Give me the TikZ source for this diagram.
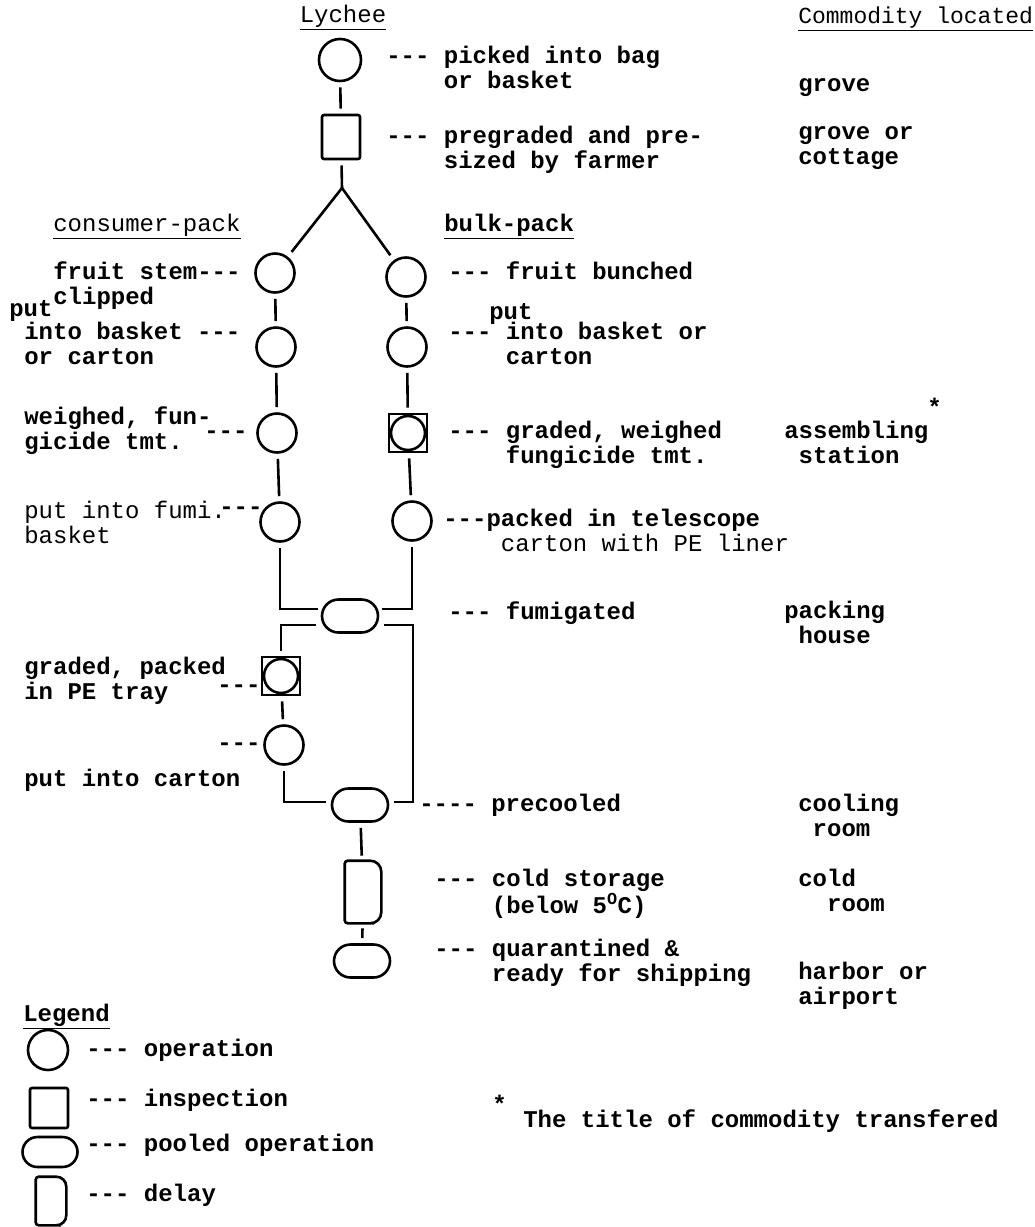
\documentclass[tikz,border=0pt]{standalone}
\usepackage{fontspec}
\setmonofont{Liberation Mono}
\usetikzlibrary{shapes.misc}

\begin{document}
\begin{tikzpicture}[x=1pt,y=-1pt,line width=2.6pt,
    op/.style={draw,circle,minimum size=39pt,inner sep=0pt},
    insp/.style={draw,rectangle,rounded corners=2pt,minimum width=38pt,minimum height=44pt,inner sep=0pt},
    opinsp/.style={draw,rectangle,minimum size=38pt,inner sep=0pt,
        path picture={\draw[line width=2.6pt] (path picture bounding box.center) circle (17pt);}},
    pool/.style={draw,rounded rectangle,minimum width=56pt,minimum height=33pt,inner sep=0pt},
    hold/.style={rectangle,minimum width=34pt,minimum height=60pt,inner sep=0pt},
    link/.style={shorten <=5pt,shorten >=5pt},
    lbl/.style={anchor=north west,inner sep=0pt,align=left,
        font=\ttfamily\bfseries\fontsize{24}{25}\selectfont,execute at begin node=\strut},
    thin/.style={font=\ttfamily\mdseries\fontsize{24}{25}\selectfont}]
    \useasboundingbox (0,0) rectangle (1035,1227);
    \fill[white] (0,0) rectangle (1035,1227);
    % column heads
    \node[lbl,thin,anchor=north] (ttl) at (343,4) {\underline{Lychee}};
    \node[lbl,thin,font=\ttfamily\fontsize{23}{25}\selectfont] (loc) at (797,5) {\underline{Commodity located}};
    \node[lbl,thin] (cpk) at (52,213) {\underline{consumer-pack}};
    \node[lbl] (bpk) at (443,213) {\underline{bulk-pack}};
    % common steps
    \node[op,minimum size=42pt] (c1) at (340,60) {};
    \node[insp] (s1) at (341,137) {};
    \coordinate (fork) at (342,188);
    \node[lbl] (t1) at (385,45) {--- picked into bag\\\hphantom{---~}or basket};
    \node[lbl] (t2) at (385,125) {--- pregraded and pre-\\\hphantom{---~}sized by farmer};
    \node[lbl] (p1) at (797,73) {grove};
    \node[lbl] (p2) at (797,125) {grove or\\cottage};
    % consumer-pack
    \node[op] (l1) at (275,273) {};
    \node[op] (l2) at (276,347) {};
    \node[op] (l3) at (277,433) {};
    \node[op] (l4) at (280,522) {};
    \node[lbl] (tl1) at (52,260) {fruit stem---\\clipped};
    \node[lbl] (tl2a) at (8,298) {put};
    \node[lbl] (tl2) at (23,321) {into basket ---\\or carton};
    \node[lbl] (tl3) at (23,405) {weighed, fun-\\gicide tmt.};
    \node[lbl] (tl3d) at (203,420) {---};
    \node[lbl,thin] (tl4) at (23,500) {put into fumi.\\basket};
    \node[lbl] (tl4d) at (218,496) {---};
    % bulk-pack
    \node[op] (r1) at (406,277) {};
    \node[op] (r2) at (407,347) {};
    \node[opinsp] (r3) at (408,433) {};
    \node[op] (r4) at (412,521) {};
    \node[lbl] (tr1) at (447,260) {--- fruit bunched};
    \node[lbl] (tr2a) at (488,301) {put};
    \node[lbl] (tr2) at (447,321) {--- into basket or\\\hphantom{---~}carton};
    \node[lbl] (tr3) at (447,420) {--- graded, weighed\\\hphantom{---~}fungicide tmt.};
    \node[lbl] (tr4) at (442,508) {---packed in telescope\\\hphantom{---~}{\mdseries carton with PE liner}};
    \node[lbl] (p3) at (783,420) {assembling\\~station};
    \node[lbl] (ast1) at (926,397) {*};
    % pooled steps
    \node[pool] (fum) at (350,616) {};
    \node[opinsp] (l5) at (281,676) {};
    \node[op] (l6) at (284,745) {};
    \node[pool] (pre) at (360,805) {};
    \coordinate (rc) at (413,802);
    \node[hold] (cs) at (363,892) {};
    \node[pool] (qu) at (362,961) {};
    \node[lbl] (tf) at (447,600) {--- fumigated};
    \node[lbl] (p4) at (783,600) {packing\\~house};
    \node[lbl] (tl5) at (23,656) {graded, packed\\in PE tray};
    \node[lbl] (tl5d) at (216,674) {---};
    \node[lbl] (tl6d) at (216,732) {---};
    \node[lbl] (tl6) at (23,768) {put into carton};
    \node[lbl] (tp) at (418,793) {---- precooled};
    \node[lbl] (p5) at (797,793) {cooling\\~room};
    \node[lbl] (tcs) at (433,868) {--- cold storage\\\hphantom{---~}(below 5\textsuperscript{O}C)};
    \node[lbl] (p6) at (797,868) {cold\\~~room};
    \node[lbl] (tq) at (433,938) {--- quarantined \&\\\hphantom{---~}ready for shipping};
    \node[lbl] (p7) at (797,961) {harbor or\\airport};
    % legend
    \node[lbl] (lgt) at (22,1003) {\underline{Legend}};
    \node[op,minimum size=40pt] (lg1) at (48,1050) {};
    \node[insp,minimum height=40pt] (lg2) at (49,1108) {};
    \node[pool,minimum width=55pt,minimum height=30pt] (lg3) at (50,1152) {};
    \node[hold,minimum width=28pt,minimum height=46pt] (lg4) at (51,1201) {};
    \node[lbl] (lgt1) at (85,1038) {--- operation};
    \node[lbl] (lgt2) at (85,1088) {--- inspection};
    \node[lbl] (lgt3) at (85,1133) {--- pooled operation};
    \node[lbl] (lgt4) at (85,1183) {--- delay};
    \node[lbl] (ast2) at (491,1094) {*};
    \node[lbl] (note) at (522,1108) {The title of commodity transfered};
    % delay outlines
    \draw (cs.west) [rounded corners=3pt] -- (cs.north west) -- (cs.north) [rounded corners=11pt] -- (cs.north east) -- (cs.south east) -- (cs.south) [rounded corners=3pt] -- (cs.south west) -- cycle;
    \draw (lg4.west) [rounded corners=3pt] -- (lg4.north west) -- (lg4.north) [rounded corners=10pt] -- (lg4.north east) -- (lg4.south east) -- (lg4.south) [rounded corners=3pt] -- (lg4.south west) -- cycle;
    % connectors
    \draw[link] (c1) -- (s1);
    \draw[shorten <=5pt] (s1) -- (fork);
    \draw[shorten >=6pt] (fork) -- (l1);
    \draw[shorten >=6pt] (fork) -- (r1);
    \draw[link] (l1) -- (l2);
    \draw[link] (l2) -- (l3);
    \draw[link] (l3) -- (l4);
    \draw[link] (r1) -- (r2);
    \draw[link] (r2) -- (r3);
    \draw[link] (r3) -- (r4);
    \draw[shorten <=5pt,shorten >=3pt] (l4) |- ([yshift=7pt]fum.west);
    \draw[shorten <=5pt,shorten >=3pt] (r4) |- ([yshift=7pt]fum.east);
    \draw[link] ([yshift=-9pt]fum.west) -| (l5);
    \draw[link] ([yshift=-9pt]fum.east) -| (rc) -- ([yshift=3pt]pre.east);
    \draw[link] (l5) -- (l6);
    \draw[link] (l6) |- ([yshift=3pt]pre.west);
    \draw[link] (pre) -- (cs);
    \draw[link] (cs) -- (qu);
\end{tikzpicture}
\end{document}
